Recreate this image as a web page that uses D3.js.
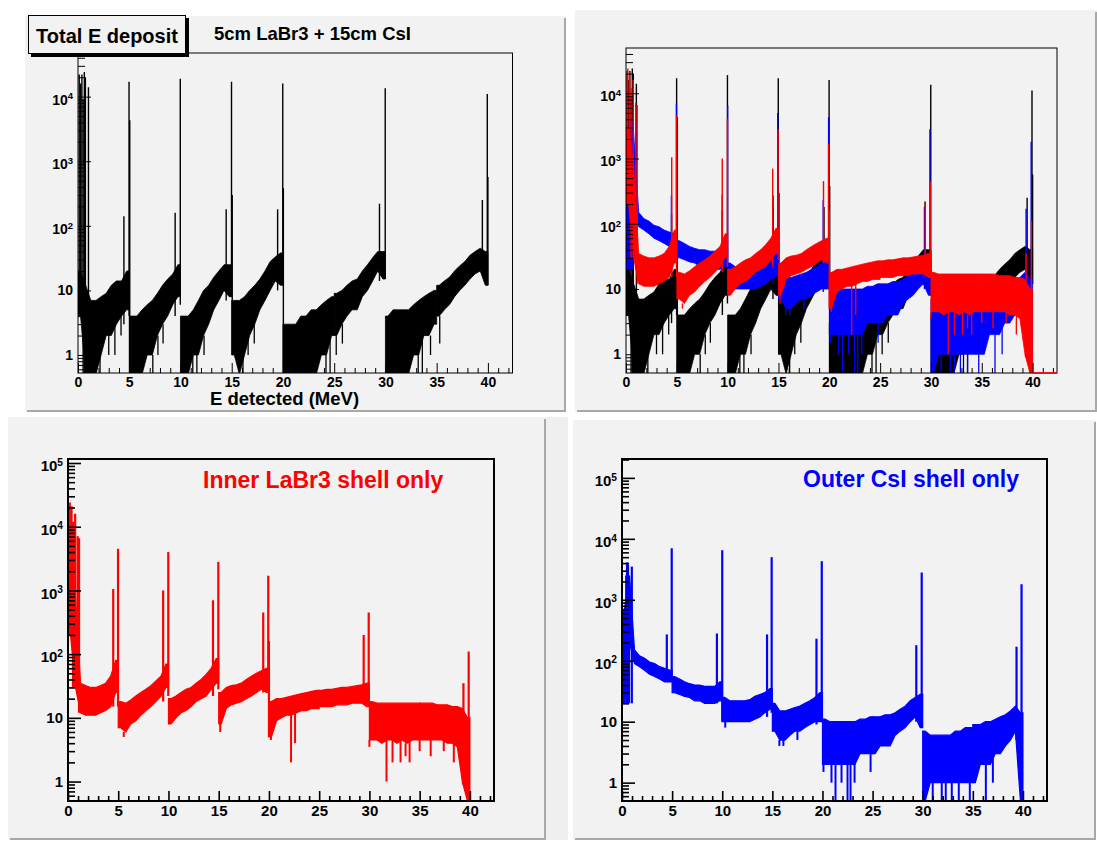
<!DOCTYPE html>
<html>
<head>
<meta charset="utf-8">
<script src="https://cdn.jsdelivr.net/npm/d3@7"></script>
<style>
  body { margin: 0; background: #fff; }
  svg { display: block; }
</style>
</head>
<body>
<svg id="canvas" width="1097" height="842"></svg>
<script>
// energy bins (lower edge, MeV), 0.5 MeV wide
const energyBins = d3.range(0, 40, 0.5);
const binWidth = 0.5;
const segmentEdges = [0, 5, 10, 15, 20, 25, 30, 35, 40];
const xTickLabels = [0, 5, 10, 15, 20, 25, 30, 35, 40];
const yDecades = [1, 10, 100, 1000, 10000, 100000];

// total deposit: band (lo / hi counts per bin)
const totalLo = [4, 0.5, 0.5, 0.5, 1, 2, 2, 3, 4, 5,
  0.5, 0.5, 0.5, 1, 1, 2, 3, 4, 6, 8,
  0.5, 0.5, 1, 1, 2, 3, 5, 7, 10, 8,
  1, 0.5, 1, 2, 3, 5, 7, 10, 14, 12,
  0.5, 0.5, 0.5, 0.5, 0.5, 0.5, 0.5, 1, 1, 2,
  2, 3, 4, 5, 5, 8, 10, 14, 20, 15,
  0.5, 0.5, 0.5, 0.5, 0.5, 1, 1, 2, 2, 3,
  4, 5, 6, 8, 10, 12, 15, 18, 20, 12];
const totalHi = [20, 12, 7, 7, 8, 9, 12, 14, 14, 20,
  4, 4, 5, 6, 7, 9, 12, 15, 18, 25,
  4, 4, 5, 7, 10, 12, 16, 20, 25, 25,
  7, 7, 8, 10, 12, 15, 20, 28, 33, 38,
  3, 3, 3, 4, 4, 5, 5, 6, 7, 8,
  9, 10, 12, 14, 15, 20, 25, 32, 40, 40,
  4, 5, 5, 5, 5, 6, 7, 8, 9, 10,
  12, 14, 16, 20, 24, 28, 35, 40, 45, 40];
const totalPeaks = [[0.12, 22000], [0.25, 16000], [0.38, 22000], [0.5, 9000], [0.62, 24000],
  [0.72, 20000], [1.02, 14000], [4.48, 140], [4.98, 17000], [5.05, 4300], [9.48, 160],
  [9.98, 19000], [14.46, 180], [14.98, 17000], [15.05, 300], [19.48, 180], [19.98, 16000],
  [20.04, 380], [29.42, 220], [29.98, 13500], [39.46, 250], [39.94, 11000], [40.0, 570]];
const totalDips = [[0.75, 0.5], [1.0, 0.5], [1.35, 0.5], [1.6, 0.5], [1.9, 0.5], [2.15, 0.5],
  [3.0, 1], [3.6, 1], [4.2, 2], [7.3, 0.5], [7.8, 1], [8.3, 1.5], [11.2, 0.5], [11.6, 0.5],
  [12.3, 1], [15.9, 0.5], [16.1, 0.5], [16.6, 1], [17.2, 1.5], [24.2, 0.5], [24.6, 0.5],
  [25.2, 1], [25.8, 1.5], [33.2, 0.5], [33.6, 0.5], [34.4, 1], [35.3, 1.5]];

// inner LaBr3 shell
const innerLo = [200, 30, 12, 11, 11, 11, 12, 13, 15, 25,
  7, 6, 8, 9, 11, 13, 15, 18, 22, 30,
  8, 10, 12, 13, 15, 18, 20, 22, 28, 35,
  8, 14, 16, 17, 18, 20, 22, 25, 28, 25,
  5, 9, 10, 11, 11, 12, 13, 13, 14, 14,
  15, 15, 15, 16, 16, 16, 17, 17, 17, 15,
  4.5, 4.5, 4, 4.5, 4.5, 4, 4.5, 4, 4.5, 4.5,
  4.5, 4.5, 4.5, 4.5, 4.5, 4, 4, 3.5, 1, 0.5];
const innerHi = [3000, 800, 35, 32, 30, 30, 32, 35, 45, 80,
  18, 17, 19, 22, 25, 28, 32, 38, 45, 70,
  20, 22, 25, 28, 30, 35, 40, 48, 60, 85,
  25, 30, 32, 33, 35, 40, 45, 50, 55, 60,
  18, 20, 20, 21, 22, 23, 24, 25, 26, 27,
  27, 28, 28, 29, 30, 30, 31, 32, 33, 35,
  18, 17, 17, 17, 17, 17, 17, 17, 17, 17,
  17, 17, 17, 16, 16, 16, 15, 15, 14, 10];
const innerPeaks = [[0.1, 20000], [0.18, 24000], [0.35, 21000], [0.5, 12000], [0.71, 16000],
  [0.96, 7100], [1.1, 6600], [4.5, 1050], [4.98, 4500], [9.47, 1000], [9.98, 4000],
  [14.43, 700], [14.96, 2800], [19.43, 450], [19.93, 1700], [20.0, 160], [29.43, 200],
  [29.93, 450], [39.36, 35], [39.88, 110]];
const innerDips = [[5.55, 5], [15.15, 6], [20.2, 4.5], [22.2, 2], [22.6, 4], [30.0, 3.5],
  [31.7, 1], [32.3, 2], [33.1, 2], [33.6, 2.5], [34.0, 2], [35.0, 3], [36.1, 2.5],
  [37.4, 3], [38.4, 2], [39.3, 0.9], [39.7, 0.5]];

// outer CsI shell
const outerLo = [20, 200, 90, 80, 70, 60, 55, 50, 45, 45,
  30, 28, 26, 25, 22, 22, 20, 20, 20, 22,
  10, 10, 10, 10, 10, 10, 11, 12, 14, 16,
  7, 5, 5, 6, 7, 7, 8, 9, 10, 10,
  2, 2, 2, 2, 2, 2, 2, 3, 3, 3,
  3, 4, 4, 4, 6, 7, 8, 10, 12, 8,
  0.5, 1, 1, 1, 1, 1, 1, 1, 1, 1,
  1, 2, 2, 2, 3, 3, 4, 5, 7, 0.5];
const outerHi = [700, 2500, 150, 120, 110, 95, 90, 80, 75, 70,
  55, 50, 45, 42, 40, 40, 38, 38, 38, 45,
  25, 22, 22, 22, 22, 23, 26, 28, 30, 35,
  20, 15, 15, 16, 17, 18, 20, 22, 25, 30,
  11, 10, 10, 10, 10, 10, 10, 11, 11, 12,
  12, 12, 13, 13, 14, 16, 18, 22, 25, 28,
  7, 6, 6, 6, 6, 6, 7, 7, 8, 8,
  9, 9, 10, 10, 11, 12, 13, 15, 18, 14];
const outerPeaks = [[0.42, 2500], [0.5, 4100], [0.6, 3800], [0.7, 2000], [0.98, 3500],
  [4.47, 270], [4.96, 7000], [9.47, 280], [10.0, 6500], [14.47, 270], [14.93, 5000],
  [19.4, 230], [19.93, 4300], [29.36, 180], [29.9, 2800], [39.36, 170], [39.86, 1800]];
const outerDips = [[10.3, 8], [15.7, 4], [16.1, 4], [17.5, 5], [20.1, 1.5], [20.9, 1],
  [21.3, 0.5], [21.9, 1], [22.5, 0.5], [22.8, 0.5], [23.2, 1], [24.8, 1.5], [30.1, 0.5],
  [30.4, 0.5], [31.0, 0.5], [31.5, 1], [31.9, 0.5], [32.3, 0.5], [32.9, 0.5], [33.6, 0.5],
  [34.2, 1], [34.7, 0.5], [35.3, 1], [36.3, 0.5], [37.0, 1], [39.9, 0.5]];

const FONT = "'Liberation Sans', Arial, Helvetica, sans-serif";
const PAD_FILL = "#f2f2f2";
const PAD_EDGE = "#a8a8a8";

const series = {
  total: { lo: totalLo, hi: totalHi, peaks: totalPeaks, dips: totalDips, color: "#000000" },
  inner: { lo: innerLo, hi: innerHi, peaks: innerPeaks, dips: innerDips, color: "#ff0000" },
  outer: { lo: outerLo, hi: outerHi, peaks: outerPeaks, dips: outerDips, color: "#0000ff" }
};

const panels = [
  { id: 1, pad: [25, 16, 566, 412], frame: [78, 53, 512.5, 373], yDomain: [0.526, 47400],
    keys: ["total"], lw: 1, fs: 14 },
  { id: 2, pad: [575, 10, 1097, 412], frame: [626, 48, 1057, 373], yDomain: [0.516, 49400],
    keys: ["total", "outer", "inner"], lw: 1, fs: 14, tail: "inner" },
  { id: 3, pad: [8, 417, 546, 840], frame: [68, 459, 494, 801], yDomain: [0.495, 115600],
    keys: ["inner"], lw: 2, fs: 15,
    label: { text: "Inner LaBr3 shell only", x: 203, y: 488, color: "#ff0000" } },
  { id: 4, pad: [573, 420, 1096, 840], frame: [622, 459, 1047, 801], yDomain: [0.5, 204000],
    keys: ["outer"], lw: 2, fs: 15,
    label: { text: "Outer CsI shell only", x: 803, y: 487, color: "#0000ff" } }
];

const svg = d3.select("#canvas");

// pads
panels.forEach(p => {
  const [x0, y0, x1, y1] = p.pad;
  svg.append("rect").attr("x", x0).attr("y", y0).attr("width", x1 - x0).attr("height", y1 - y0)
    .attr("fill", PAD_FILL);
  svg.append("line").attr("x1", x1 - 1).attr("x2", x1 - 1).attr("y1", y0 + 2).attr("y2", y1)
    .attr("stroke", PAD_EDGE).attr("stroke-width", 2);
  svg.append("line").attr("x1", x0 + 2).attr("x2", x1).attr("y1", y1 - 1).attr("y2", y1 - 1)
    .attr("stroke", PAD_EDGE).attr("stroke-width", 2);
});
// strip beside the lower-left pad
svg.append("rect").attr("x", 546).attr("y", 417).attr("width", 22).attr("height", 423)
  .attr("fill", "#efefef");

function binIndex(e) {
  return Math.max(0, Math.min(Math.floor(e / binWidth), energyBins.length - 1));
}

function drawPanel(p) {
  const [fx0, fy0, fx1, fy1] = p.frame;
  const x = d3.scaleLinear().domain([0, 42.4]).range([fx0, fx1]);
  const y = d3.scaleLog().domain(p.yDomain).range([fy1, fy0]);
  const big = p.lw > 1;

  svg.append("clipPath").attr("id", "clip" + p.id)
    .append("rect").attr("x", fx0).attr("y", fy0).attr("width", fx1 - fx0).attr("height", fy1 - fy0);

  const plot = svg.append("g").attr("clip-path", `url(#clip${p.id})`);

  const area = d3.area()
    .x(d => x(d.x))
    .y0(d => y(d.lo))
    .y1(d => y(d.hi));

  p.keys.forEach(key => {
    const s = series[key];
    const sg = plot.append("g");

    // noisy band: one piece per 5 MeV segment so the edges stay sharp
    d3.pairs(segmentEdges).forEach(([a, b]) => {
      const pts = energyBins
        .map((e, i) => ({ x: e + binWidth / 2, lo: s.lo[i], hi: s.hi[i] }))
        .filter(d => d.x > a && d.x < b);
      const first = pts[0], last = pts[pts.length - 1];
      const seg = [{ x: a, lo: first.lo, hi: first.hi }, ...pts, { x: b, lo: last.lo, hi: last.hi }];
      sg.append("path").datum(seg)
        .attr("d", area)
        .attr("fill", s.color)
        .attr("stroke", s.color)
        .attr("stroke-width", big ? 1.2 : 0.8)
        .attr("stroke-linejoin", "miter");
    });

    sg.selectAll("line.dip")
      .data(s.dips)
      .join("line")
      .attr("class", "dip")
      .attr("x1", d => x(d[0])).attr("x2", d => x(d[0]))
      .attr("y1", d => y(s.lo[binIndex(d[0])]))
      .attr("y2", d => y(d[1]))
      .attr("stroke", s.color).attr("stroke-width", big ? 2 : 1.3);

    sg.selectAll("line.peak")
      .data(s.peaks)
      .join("line")
      .attr("class", "peak")
      .attr("x1", d => x(d[0])).attr("x2", d => x(d[0]))
      .attr("y1", d => {
        const i = binIndex(d[0]);
        return y(Math.min(s.lo[i], s.lo[Math.max(i - 1, 0)]));
      })
      .attr("y2", d => y(d[1]))
      .attr("stroke", s.color).attr("stroke-width", big ? 2.2 : 1.4);
  });

  const tickW = big ? 1.6 : 1;

  // x axis: majors every 5 MeV, minors every 1 MeV, ticks pointing into the frame
  const xMinor = d3.range(0, 42.4, 1).filter(v => v % 5 !== 0);
  svg.append("g")
    .attr("transform", `translate(0, ${fy1})`)
    .call(d3.axisBottom(x).tickValues(xMinor).tickSize(-5).tickFormat(""))
    .call(a => a.select(".domain").remove())
    .call(a => a.selectAll("line").attr("stroke-width", tickW));

  svg.append("g")
    .attr("transform", `translate(0, ${fy1})`)
    .call(d3.axisBottom(x).tickValues(xTickLabels).tickSize(-10).tickSizeOuter(0).tickPadding(4))
    .call(a => a.select(".domain").remove())
    .call(a => a.selectAll("line").attr("stroke-width", tickW))
    .attr("font-family", FONT).attr("font-size", p.fs).attr("font-weight", "bold");

  // y axis (log)
  const [ymin, ymax] = p.yDomain;
  const yMinor = [];
  for (let k = -1; k <= 5; k++) {
    for (let m = 2; m <= 9; m++) {
      const v = m * Math.pow(10, k);
      if (v > ymin && v < ymax) yMinor.push(v);
    }
  }
  svg.append("g")
    .attr("transform", `translate(${fx0}, 0)`)
    .call(d3.axisLeft(y).tickValues(yMinor).tickSize(-7).tickFormat(""))
    .call(a => a.select(".domain").remove())
    .call(a => a.selectAll("line").attr("stroke-width", tickW));

  svg.append("g")
    .attr("transform", `translate(${fx0}, 0)`)
    .call(d3.axisLeft(y).tickValues(yDecades.filter(v => v > ymin && v < ymax))
      .tickSize(-13).tickSizeOuter(0).tickPadding(5))
    .call(a => a.select(".domain").remove())
    .call(a => a.selectAll("line").attr("stroke-width", tickW))
    .attr("font-family", FONT).attr("font-size", p.fs).attr("font-weight", "bold")
    .call(a => a.selectAll(".tick text").each(function (d) {
      const t = d3.select(this).text(null);
      const exp = Math.round(Math.log10(d));
      if (exp < 2) {
        t.text(d);
      } else {
        t.attr("y", 3);
        t.append("tspan").text("10");
        t.append("tspan").attr("dy", "-0.55em").attr("font-size", "0.68em").text(exp);
      }
    }));

  // frame
  svg.append("rect")
    .attr("x", fx0).attr("y", fy0).attr("width", fx1 - fx0).attr("height", fy1 - fy0)
    .attr("fill", "none").attr("stroke", "#000").attr("stroke-width", p.lw);

  if (p.tail) {
    svg.append("line")
      .attr("x1", x(40)).attr("x2", fx1).attr("y1", fy1).attr("y2", fy1)
      .attr("stroke", series[p.tail].color).attr("stroke-width", 1.6);
  }

  if (p.label) {
    svg.append("text")
      .attr("x", p.label.x).attr("y", p.label.y)
      .attr("fill", p.label.color)
      .attr("font-family", FONT).attr("font-size", 23).attr("font-weight", "bold")
      .text(p.label.text);
  }
}

panels.forEach(drawPanel);

// upper-left texts
svg.append("text")
  .attr("x", 214).attr("y", 39.5)
  .attr("font-family", FONT).attr("font-size", 18.5).attr("font-weight", "bold")
  .text("5cm LaBr3 + 15cm CsI");

svg.append("text")
  .attr("x", 210).attr("y", 405)
  .attr("font-family", FONT).attr("font-size", 18.5).attr("font-weight", "bold")
  .text("E detected (MeV)");

// title box with shadow
svg.append("rect").attr("x", 31).attr("y", 18).attr("width", 158).attr("height", 39).attr("fill", "#000");
svg.append("rect").attr("x", 28.5).attr("y", 15.5).attr("width", 157).attr("height", 38)
  .attr("fill", PAD_FILL).attr("stroke", "#000").attr("stroke-width", 1);
svg.append("text")
  .attr("x", 107).attr("y", 43)
  .attr("text-anchor", "middle")
  .attr("font-family", FONT).attr("font-size", 20).attr("font-weight", "bold")
  .text("Total E deposit");
</script>
</body>
</html>
